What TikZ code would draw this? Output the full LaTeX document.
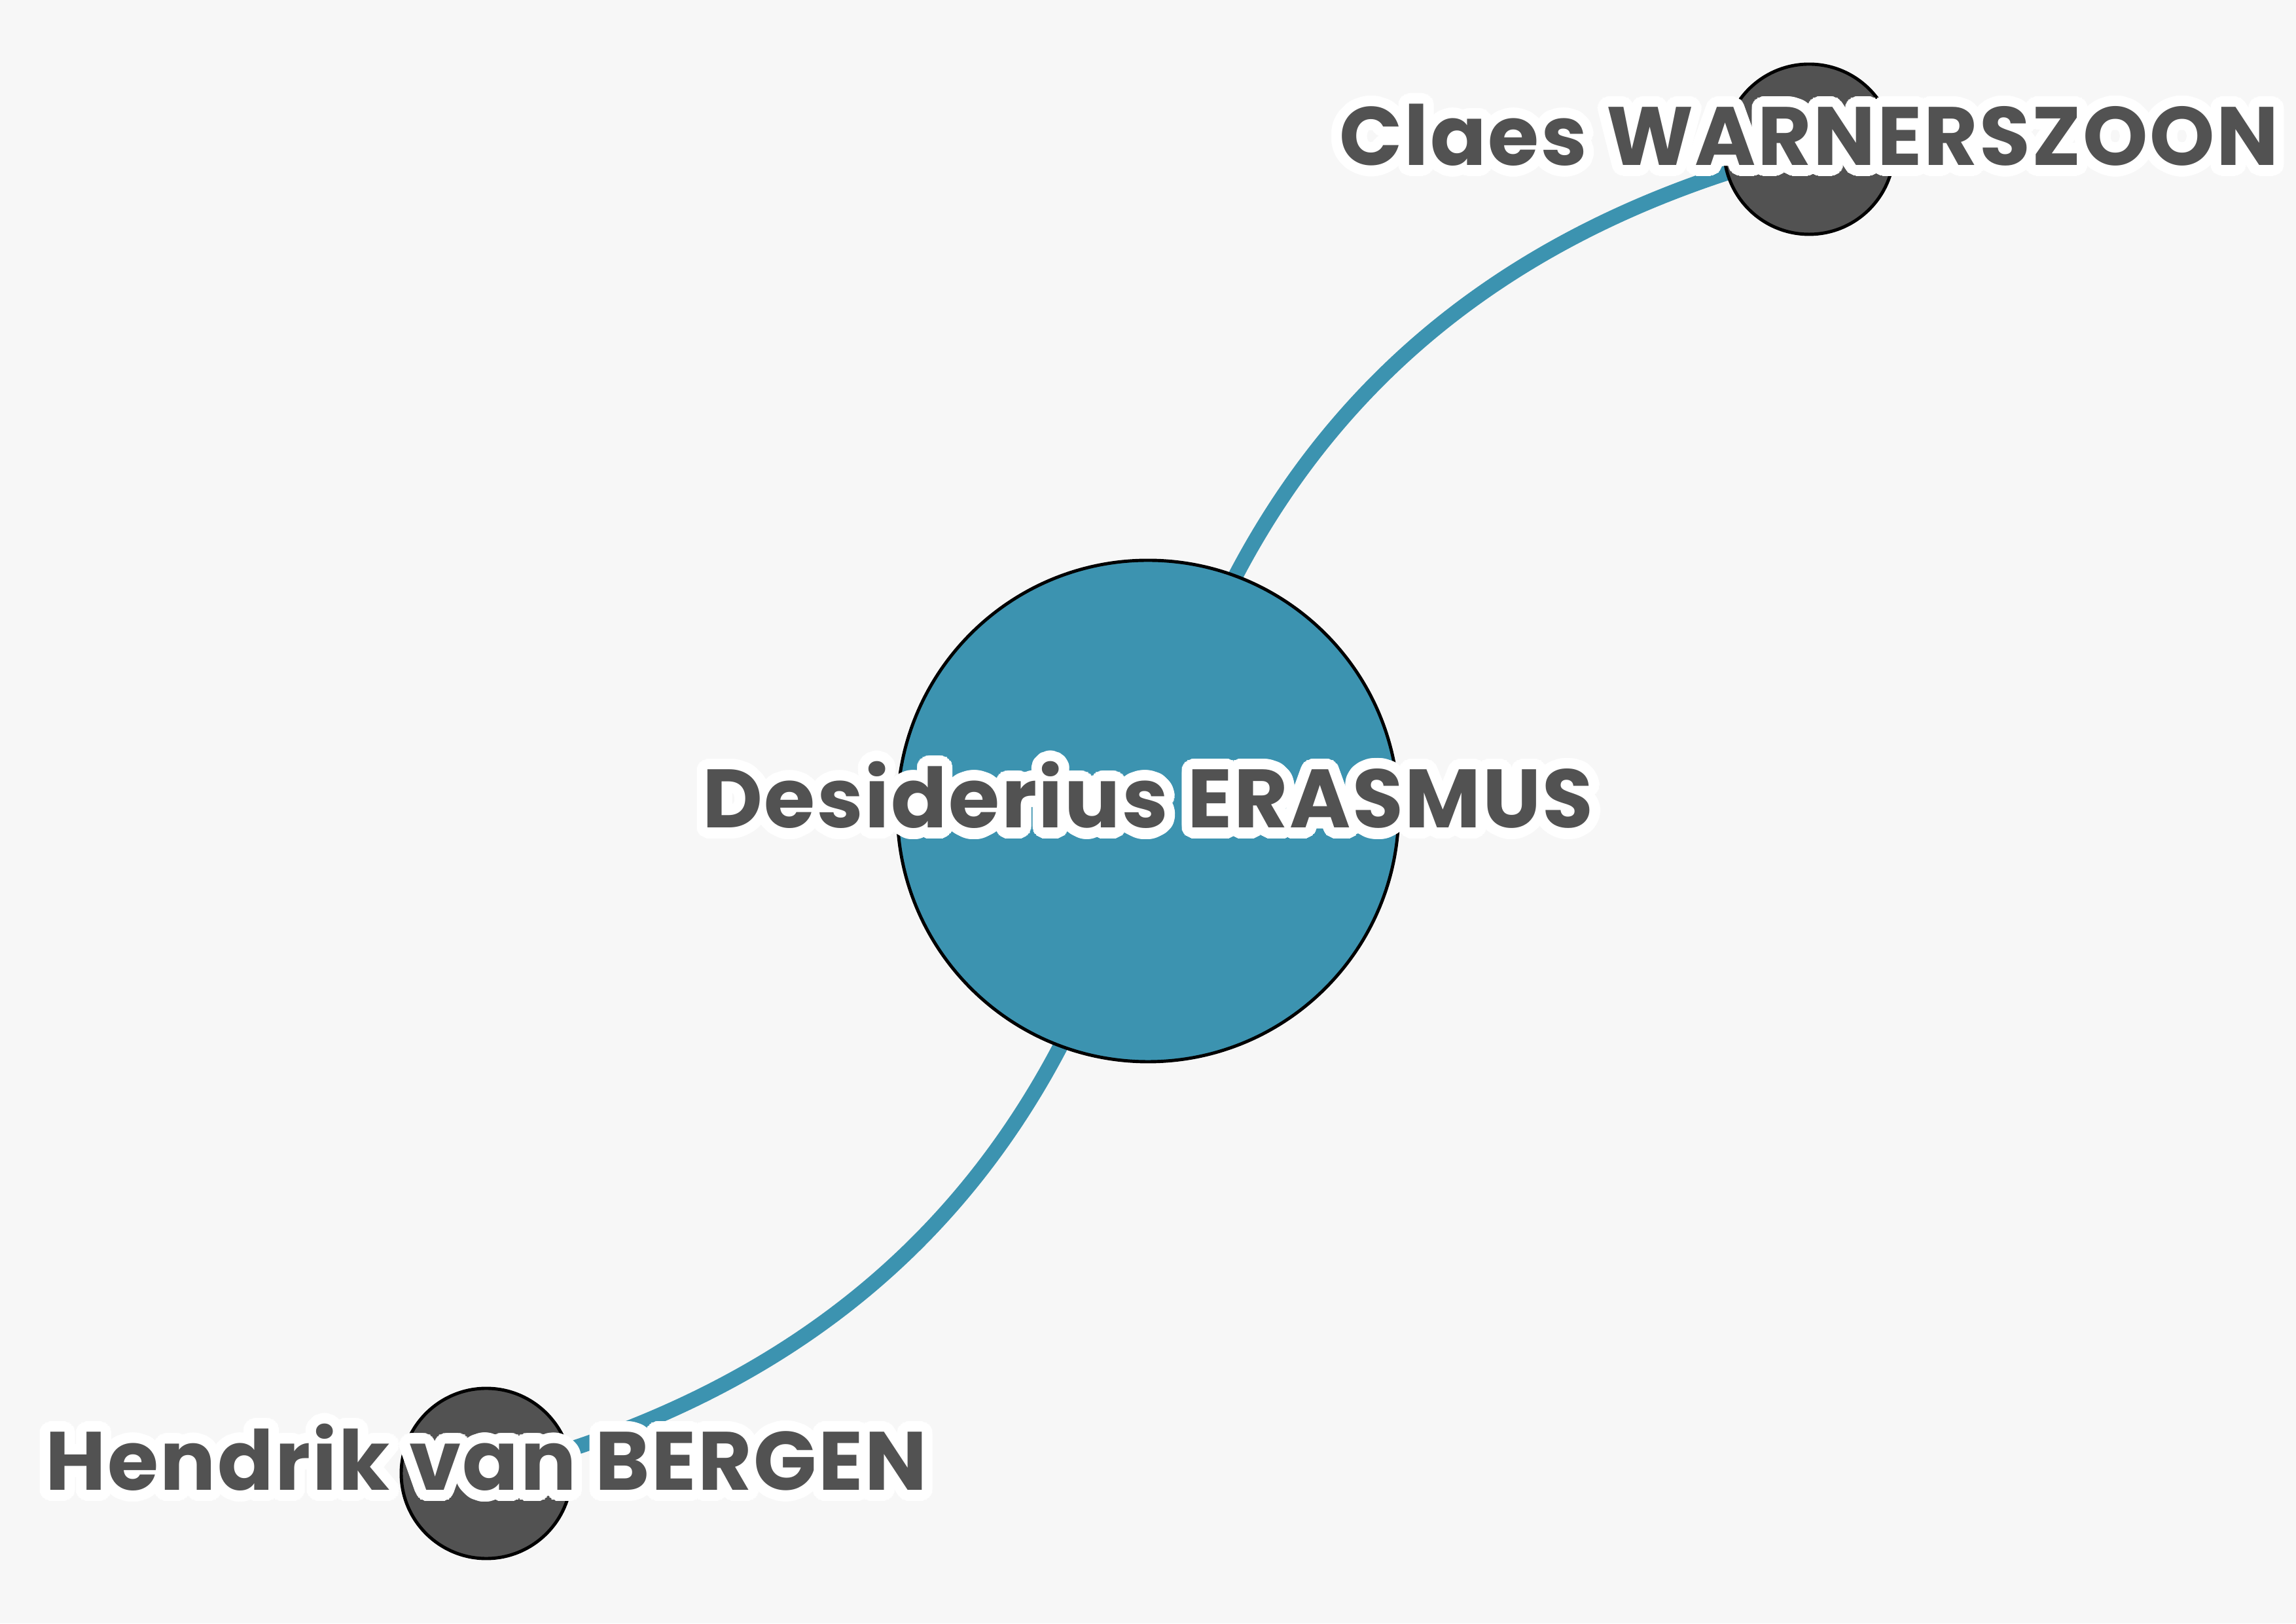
\documentclass[tikz,border=0pt]{standalone}
\usepackage{fontspec}
\usepackage{tikz}
\usetikzlibrary{positioning,calc}
\usepackage{contour}
\contourlength{4.6pt}
\contournumber{48}
\newfontfamily\namefont{Poppins}[LetterSpace=2]
\definecolor{graphbg}{HTML}{F7F7F7}
\definecolor{graphteal}{HTML}{3C93B0}
\definecolor{graphgray}{HTML}{525252}

\pgfdeclarelayer{backdrop}
\pgfdeclarelayer{links}
\pgfsetlayers{backdrop,links,main}

\begin{document}
\begin{tikzpicture}[
    person/.style={circle, draw=black, line width=1.4pt, fill=#1, inner sep=0pt},
    link/.style={line width=6.6pt, color=graphteal},
    namelabel/.style={anchor=base, inner sep=0pt, text=graphgray, font=\namefont\bfseries\fontsize{36}{40}\selectfont},
]

% === Canvas ===
\useasboundingbox (0,0) rectangle (35.08,24.80);
\begin{pgfonlayer}{backdrop}
\fill[graphbg] (0,0) rectangle (35.08,24.80);
\end{pgfonlayer}

% === People ===
\node[person=graphteal, minimum size=7.66cm] (erasmus) at (17.54,12.41) {};
\node[person=graphgray, minimum size=2.60cm] (claes) at (27.64,22.52) {};
\node[person=graphgray, minimum size=2.60cm] (hendrik) at (7.43,2.29) {};

% === Relations (behind the circles) ===
\begin{pgfonlayer}{links}
\draw[link] (erasmus.center) to[bend left=31] (claes.center);
\draw[link] (erasmus.center) to[bend left=31] (hendrik.center);
\end{pgfonlayer}

% Name labels
\node[namelabel] (erasmuslbl) at ([yshift=-0.26cm]erasmus.center) {\contour{white}{Desiderius ERASMUS}};
\node[namelabel] (claeslbl) at ([yshift=-0.25cm]claes.center) {\contour{white}{Claes WARNERSZOON}};
\node[namelabel] (hendriklbl) at ([yshift=-0.26cm]hendrik.center) {\contour{white}{Hendrik van BERGEN}};

\end{tikzpicture}
\end{document}
